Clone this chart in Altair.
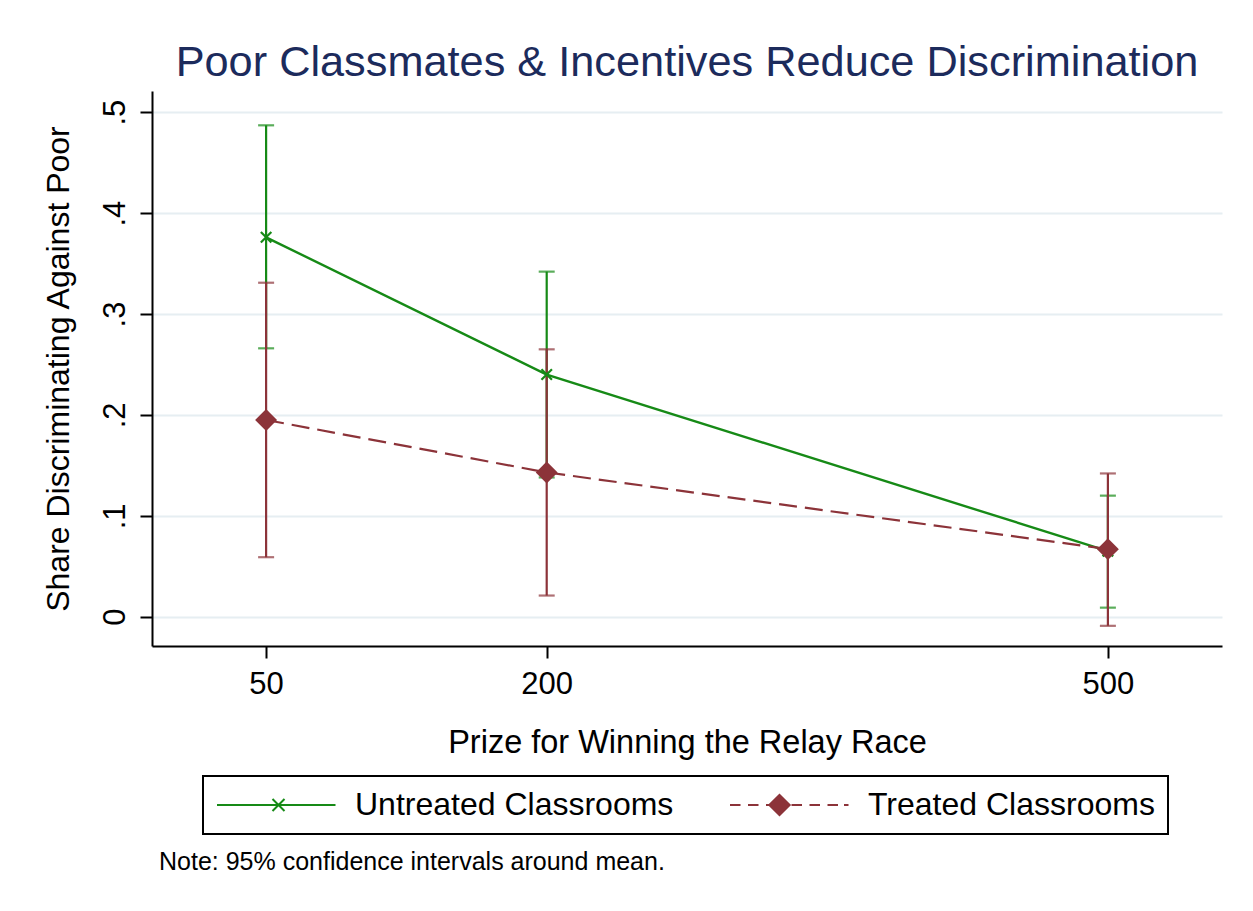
import json
import altair as alt
import pandas as pd

# ---------------- data ----------------
prizes = [50, 200, 500]
series_names = ["Untreated Classrooms", "Treated Classrooms"]
untreated_mean = [0.376, 0.240, 0.065]
untreated_lo = [0.266, 0.138, 0.009]
untreated_hi = [0.487, 0.342, 0.120]
treated_mean = [0.195, 0.143, 0.067]
treated_lo = [0.059, 0.021, -0.009]
treated_hi = [0.331, 0.265, 0.142]
x_tick_values = [50, 200, 500]
y_tick_values = [0, 0.1, 0.2, 0.3, 0.4, 0.5]
y_tick_labels = ["0", ".1", ".2", ".3", ".4", ".5"]

# ---------------- styles ----------------
GREEN = "#168a16"
MAROON = "#8c3339"
NAVY = "#1c2b5c"
FONT = "Liberation Sans"

rows = []
for name, m, lo, hi in [
    (series_names[0], untreated_mean, untreated_lo, untreated_hi),
    (series_names[1], treated_mean, treated_lo, treated_hi),
]:
    for p, a, b, c in zip(prizes, m, lo, hi):
        rows.append({"series": name, "prize": p, "mean": a, "lo": b, "hi": c})
df = pd.DataFrame(rows)

x_scale = alt.Scale(domain=[-11, 561], nice=False, zero=False)
y_scale = alt.Scale(domain=[-0.029, 0.521], nice=False, zero=False)

x_axis = alt.Axis(
    values=x_tick_values, format="d", title="Prize for Winning the Relay Race",
    grid=False, labelFontSize=31, titleFontSize=32.5, labelPadding=11, titlePadding=27,
)
y_axis = alt.Axis(
    values=y_tick_values,
    labelExpr=f"{json.dumps(y_tick_labels)}[round(datum.value*10)]",
    title="Share Discriminating Against Poor",
    grid=True, gridColor="#e6eef2", gridWidth=2,
    labelAngle=270, labelAlign="center", labelBaseline="bottom",
    labelFontSize=31, titleFontSize=32, labelPadding=9, titlePadding=24,
)


def X():
    return alt.X("prize:Q", scale=x_scale, axis=x_axis)


def Y(field):
    return alt.Y(f"{field}:Q", scale=y_scale, axis=y_axis)


base = alt.Chart(df)
layers = []
colors = {series_names[0]: GREEN, series_names[1]: MAROON}

# confidence intervals
for name in series_names:
    col = colors[name]
    sub = base.transform_filter(alt.datum.series == name)
    layers.append(sub.mark_rule(color=col, strokeWidth=2.2).encode(x=X(), y=Y("lo"), y2="hi:Q"))
    layers.append(sub.mark_tick(color=col, orient="horizontal", size=16, thickness=2.2).encode(x=X(), y=Y("lo")))
    layers.append(sub.mark_tick(color=col, orient="horizontal", size=16, thickness=2.2).encode(x=X(), y=Y("hi")))

XMARK = "M-1,-1L1,1M-1,1L1,-1"
# untreated line + markers
sub_u = base.transform_filter(alt.datum.series == series_names[0])
layers.append(sub_u.mark_line(color=GREEN, strokeWidth=2.4).encode(x=X(), y=Y("mean")))
layers.append(sub_u.mark_point(shape=XMARK, size=110, strokeWidth=2.2, color=GREEN, filled=False, opacity=1)
              .encode(x=X(), y=Y("mean")))
# treated line + markers
sub_t = base.transform_filter(alt.datum.series == series_names[1])
layers.append(sub_t.mark_line(color=MAROON, strokeWidth=2.2, strokeDash=[18, 8]).encode(x=X(), y=Y("mean")))
layers.append(sub_t.mark_point(shape="diamond", size=480, filled=True, color=MAROON, opacity=1)
              .encode(x=X(), y=Y("mean")))

# legend symbols (line + marker), scaled by sqrt(symbolSize)/2 = 15 px per unit
leg_untreated = "M-1,0H6.9M2.7,-0.4L3.5,0.4M2.7,0.4L3.5,-0.4"
diamond_parts = "".join(
    f"M{2.3 - r:.2f},0L2.3,{-r:.2f}L{2.3 + r:.2f},0L2.3,{r:.2f}Z" for r in
    [0.68, 0.6, 0.52, 0.44, 0.36, 0.28, 0.2, 0.12, 0.05]
)
leg_treated = ("M-1,0H-0.3M0.2,0H0.9M1.4,0H1.6" + diamond_parts + "M3.1,0H3.8M4.3,0H5.0M5.5,0H6.2M6.6,0H6.9")

legend = alt.Legend(
    title=None, orient="none", legendX=51, legendY=685, direction="horizontal",
    padding=13, strokeColor="black", columnPadding=52, labelOffset=107,
    symbolSize=900, symbolStrokeWidth=2, labelFontSize=32, labelFont=FONT,
    labelColor="black", labelLimit=600,
)
layers.append(
    base.mark_point(filled=False, strokeWidth=2, opacity=1, clip=True).encode(
        x=X(),
        y=alt.value(-400),
        color=alt.Color("series:N", scale=alt.Scale(domain=series_names, range=[GREEN, MAROON]), legend=legend),
        shape=alt.Shape("series:N", scale=alt.Scale(domain=series_names, range=[leg_untreated, leg_treated]), legend=legend),
    )
)

main = alt.layer(*layers).properties(
    width=1070, height=555,
    title=alt.TitleParams(
        "Poor Classmates & Incentives Reduce Discrimination",
        fontSize=43.3, font=FONT, fontWeight="normal", color=NAVY,
        anchor="middle", baseline="alphabetic", offset=-28,
    ),
)

chart = alt.vconcat(main).properties(
    title=alt.TitleParams(
        "Note: 95% confidence intervals around mean.",
        orient="bottom", anchor="start", frame="bounds", baseline="top",
        fontSize=25, font=FONT, fontWeight="normal", color="black", dx=117, offset=15,
    ),
    padding={"top": 32, "left": 33, "right": 20, "bottom": 20},
).configure(
    background="white", font=FONT,
).configure_view(
    stroke=None,
).configure_axis(
    domainColor="black", domainWidth=2, tickColor="black", tickWidth=2, tickSize=12,
    labelColor="black", titleColor="black", labelFont=FONT, titleFont=FONT,
    titleFontWeight="normal",
).configure_legend(
    strokeWidth=2,
)

chart.save("out.html", embed_options={"renderer": "svg", "actions": False})
